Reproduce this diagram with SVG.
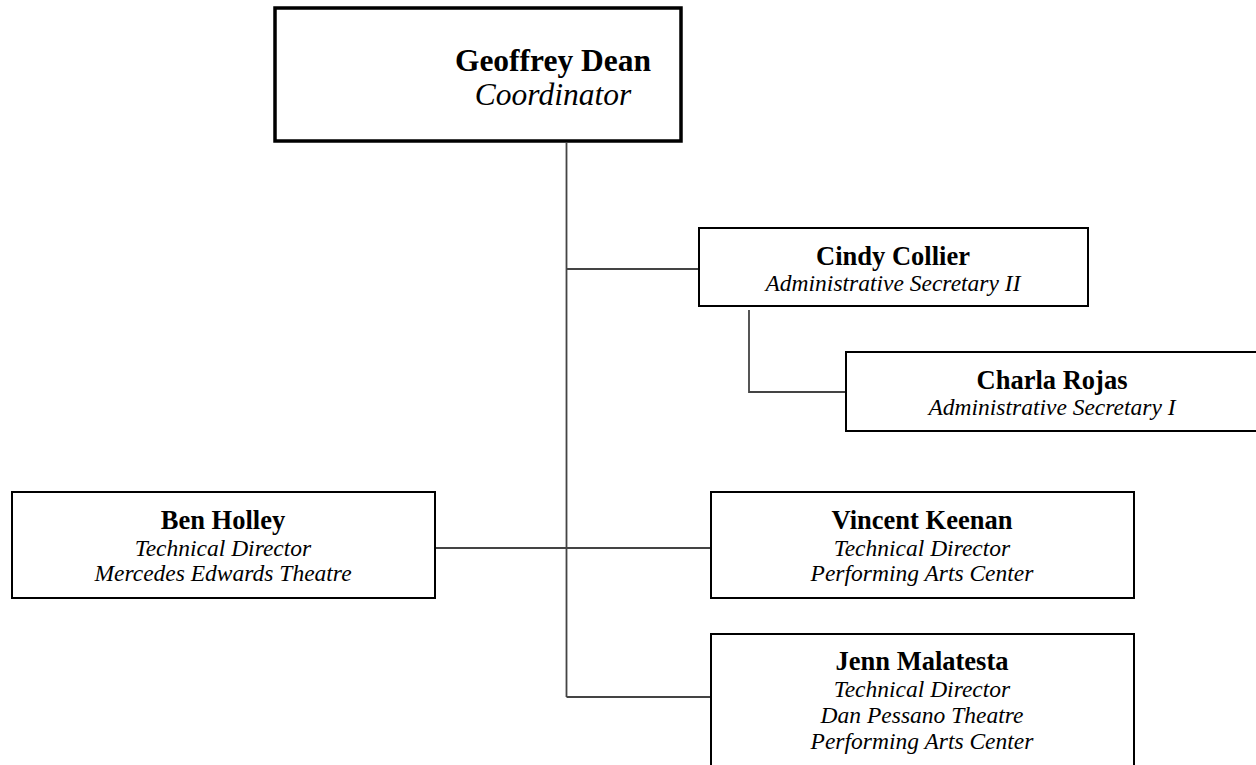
<svg xmlns="http://www.w3.org/2000/svg" width="1256" height="765" viewBox="0 0 1256 765">
<style>
.box{fill:#fff;stroke:#000;stroke-width:2}
.top{stroke-width:3.5}
.name{font-family:"Liberation Serif","Times New Roman",serif;font-weight:bold;font-size:26.5px;text-anchor:middle;fill:#000}
.big{font-size:31.5px}
.role{font-family:"Liberation Serif","Times New Roman",serif;font-style:italic;font-size:23.5px;text-anchor:middle;fill:#000}
.bigr{font-size:31.5px}
.conn{fill:none;stroke:#444;stroke-width:1.8}
</style>
<rect width="1256" height="765" fill="#fff"/>
<g id="connectors">
<line class="conn" x1="566.5" y1="143" x2="566.5" y2="697"/>
<line class="conn" x1="566.5" y1="269" x2="699" y2="269"/>
<line class="conn" x1="435" y1="548" x2="711" y2="548"/>
<line class="conn" x1="566.5" y1="697" x2="711" y2="697"/>
<polyline class="conn" points="749,310 749,392 846,392"/>
</g>
<g id="geoffrey">
<rect class="box top" x="275" y="8" width="406" height="133"/>
<text class="name big" x="553" y="71">Geoffrey Dean</text>
<text class="role bigr" x="553" y="105">Coordinator</text>
</g>
<g id="cindy">
<rect class="box" x="699" y="228" width="389" height="78"/>
<text class="name" x="893" y="265">Cindy Collier</text>
<text class="role" x="893" y="291">Administrative Secretary II</text>
</g>
<g id="charla">
<rect class="box" x="846" y="352" width="420" height="79"/>
<text class="name" x="1052" y="389">Charla Rojas</text>
<text class="role" x="1052" y="415">Administrative Secretary I</text>
</g>
<g id="ben">
<rect class="box" x="12" y="492" width="423" height="106"/>
<text class="name" x="223" y="529">Ben Holley</text>
<text class="role" x="223" y="556">Technical Director</text>
<text class="role" x="223" y="581">Mercedes Edwards Theatre</text>
</g>
<g id="vincent">
<rect class="box" x="711" y="492" width="423" height="106"/>
<text class="name" x="922" y="529">Vincent Keenan</text>
<text class="role" x="922" y="556">Technical Director</text>
<text class="role" x="922" y="581">Performing Arts Center</text>
</g>
<g id="jenn">
<rect class="box" x="711" y="634" width="423" height="140"/>
<text class="name" x="922" y="670">Jenn Malatesta</text>
<text class="role" x="922" y="697">Technical Director</text>
<text class="role" x="922" y="723">Dan Pessano Theatre</text>
<text class="role" x="922" y="749">Performing Arts Center</text>
</g>
</svg>
